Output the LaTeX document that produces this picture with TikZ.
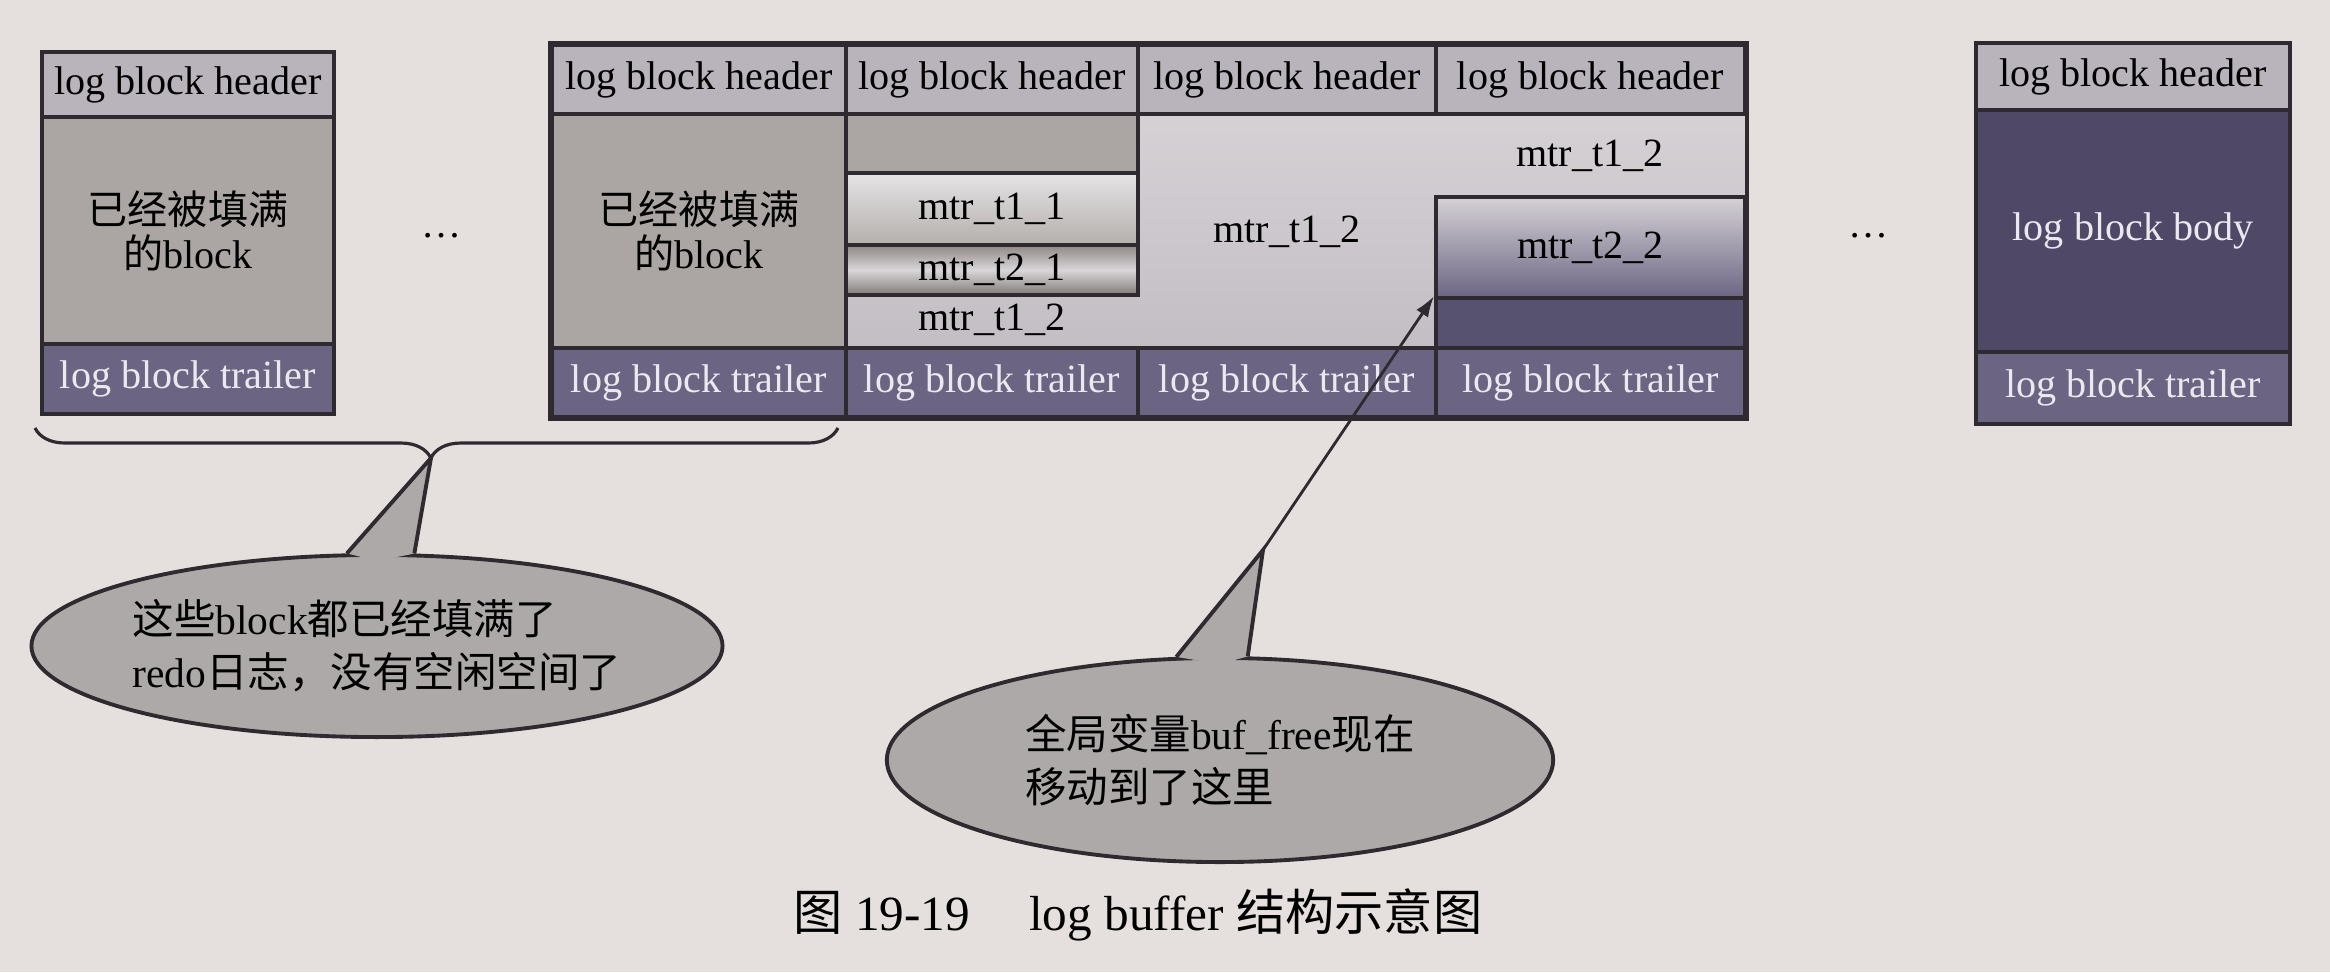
\documentclass[tikz,border=0pt]{standalone}
\usepackage{fontspec}
\setmainfont{Liberation Serif}
\newfontfamily\cjk{Noto Sans CJK SC}
\usetikzlibrary{fit,shapes.geometric,decorations.pathreplacing,arrows.meta,calc}
\newcommand{\zh}[1]{{\cjk #1}}
\newcommand{\blkfont}{\fontsize{11.4}{12.5}\selectfont}

\definecolor{paper}{HTML}{E5DFDD}
\definecolor{ink}{HTML}{2E2A30}
\definecolor{hdrgray}{HTML}{B9B3BB}
\definecolor{fullgray}{HTML}{ABA6A3}
\definecolor{trlpurple}{HTML}{6B6583}
\definecolor{trltext}{HTML}{ECE8EE}
\definecolor{bodydark}{HTML}{4F4967}
\definecolor{freedark}{HTML}{585271}
\definecolor{lighttop}{HTML}{D5D1D5}
\definecolor{lightbot}{HTML}{C3BEC4}
\definecolor{t2dark}{HTML}{8E8884}
\definecolor{notefill}{HTML}{ADA9A9}

\tikzset{
  cell/.style={draw=ink, line width=1.1pt, inner sep=0pt},
  cell text/.style 2 args={label={[font=\blkfont, align=center, text=#1]center:#2}},
  hdrcell/.style={cell, fill=hdrgray, cell text={black}{#1}},
  trlcell/.style={cell, fill=trlpurple, cell text={trltext}{#1}},
  fullcell/.style={cell, fill=fullgray, cell text={black}{#1}},
  mtrtext/.style={font=\blkfont},
  note/.style={ellipse, draw=ink, line width=1.1pt, fill=notefill, inner sep=0pt,
    align=left, font=\fontsize{11.8}{15}\selectfont},
  pointer/.style={draw=ink, line width=1.1pt, line join=miter},
}

\begin{document}
\begin{tikzpicture}[x=0.01cm, y=-0.01cm]
  \fill[paper] (0,0) rectangle (2330,972);
  \useasboundingbox (0,0) rectangle (2330,972);

  % block already filled
  \node[hdrcell={log block header}, fit={(42,52) (334,117)}] (b1h) {};
  \node[fullcell={\zh{已经被填满}\\\zh{的}block}, fit={(42,117) (334,344)}] (b1b) {};
  \node[trlcell={log block trailer}, fit={(42,344) (334,414)}] (b1t) {};
  \node[mtrtext] (dots1) at (442,236) {\ldots};

  % four blocks in a row
  \fill[top color=lighttop, bottom color=lightbot] (846,114) rectangle (1745,348);
  \foreach \xa/\xb/\n in {552/846/1, 846/1138/2, 1138/1436/3, 1436/1745/4} {
    \node[hdrcell={log block header}, fit={(\xa,45) (\xb,114)}] (gh\n) {};
    \node[trlcell={log block trailer}, fit={(\xa,348) (\xb,417)}] (gt\n) {};
  }
  \node[fullcell={\zh{已经被填满}\\\zh{的}block}, fit={(552,114) (846,348)}] (g1b) {};
  \node[cell, fill=fullgray, fit={(846,114) (1138,173)}] (g2top) {};
  \node[cell, top color=lighttop!60!white, bottom color=fullgray!90,
    cell text={black}{mtr\_t1\_1}, fit={(846,173) (1138,245)}] (m11) {};
  \node[cell, top color=t2dark, bottom color=t2dark!90!black, middle color=lighttop!90,
    cell text={black}{mtr\_t2\_1}, fit={(846,245) (1138,295)}] (m21) {};
  \node[mtrtext] (m12a) at (992,320) {mtr\_t1\_2};
  \node[mtrtext] (m12b) at (1287,232) {mtr\_t1\_2};
  \node[mtrtext] (m12c) at (1590,156) {mtr\_t1\_2};
  \node[cell, top color=lighttop, bottom color=trlpurple,
    cell text={black}{mtr\_t2\_2}, fit={(1436,197) (1745,298)}] (m22) {};
  \node[cell, fill=freedark, fit={(1436,298) (1745,348)}] (free) {};
  \draw[ink, line width=1.1pt] (gh1.north west) rectangle (gt4.south east);

  % last block
  \node[mtrtext] (dots2) at (1869,236) {\ldots};
  \node[hdrcell={log block header}, fit={(1976,43) (2290,110)}] (b3h) {};
  \node[cell, fill=bodydark, cell text={trltext}{log block body}, fit={(1976,110) (2290,352)}] (b3b) {};
  \node[trlcell={log block trailer}, fit={(1976,352) (2290,424)}] (b3t) {};

  % brace and callouts
  \coordinate (braceL) at (35,428);
  \coordinate (braceR) at (838,428);
  \coordinate (bracetip) at (431,458);
  \draw[ink, line width=0.9pt, decorate,
    decoration={brace, mirror, amplitude=0.3cm, aspect=0.493}] (braceL) -- (braceR);

  \node[note, minimum width=6.34cm, minimum height=1.82cm] (note1) at (377,646)
    {\zh{这些}block\zh{都已经填满了}\\redo\zh{日志，没有空闲空间了}};
  \fill[notefill] (note1.108) -- (bracetip) -- (note1.68) -- ($(note1.north)+(0,8)$) -- cycle;
  \draw[pointer] (note1.108) -- (bracetip) -- (note1.68);

  \coordinate (tip2) at (1263,550);
  \node[note, minimum width=6.66cm, minimum height=2.04cm] (note2) at (1220,760)
    {\zh{全局变量}buf\_free\zh{现在}\\\zh{移动到了这里}};
  \fill[notefill] (note2.113) -- (tip2) -- (note2.75) -- ($(note2.north)+(0,8)$) -- cycle;
  \draw[pointer] (note2.113) -- (tip2) -- (note2.75);
  \draw[ink, line width=0.8pt, -{Latex[length=6pt,width=4pt]}] (tip2) -- (free.north west);

  \node[font=\fontsize{14}{16}\selectfont] (caption) at (1138,915)
    {\zh{图} 19-19\hspace{1.2em}log buffer \zh{结构示意图}};
\end{tikzpicture}
\end{document}
